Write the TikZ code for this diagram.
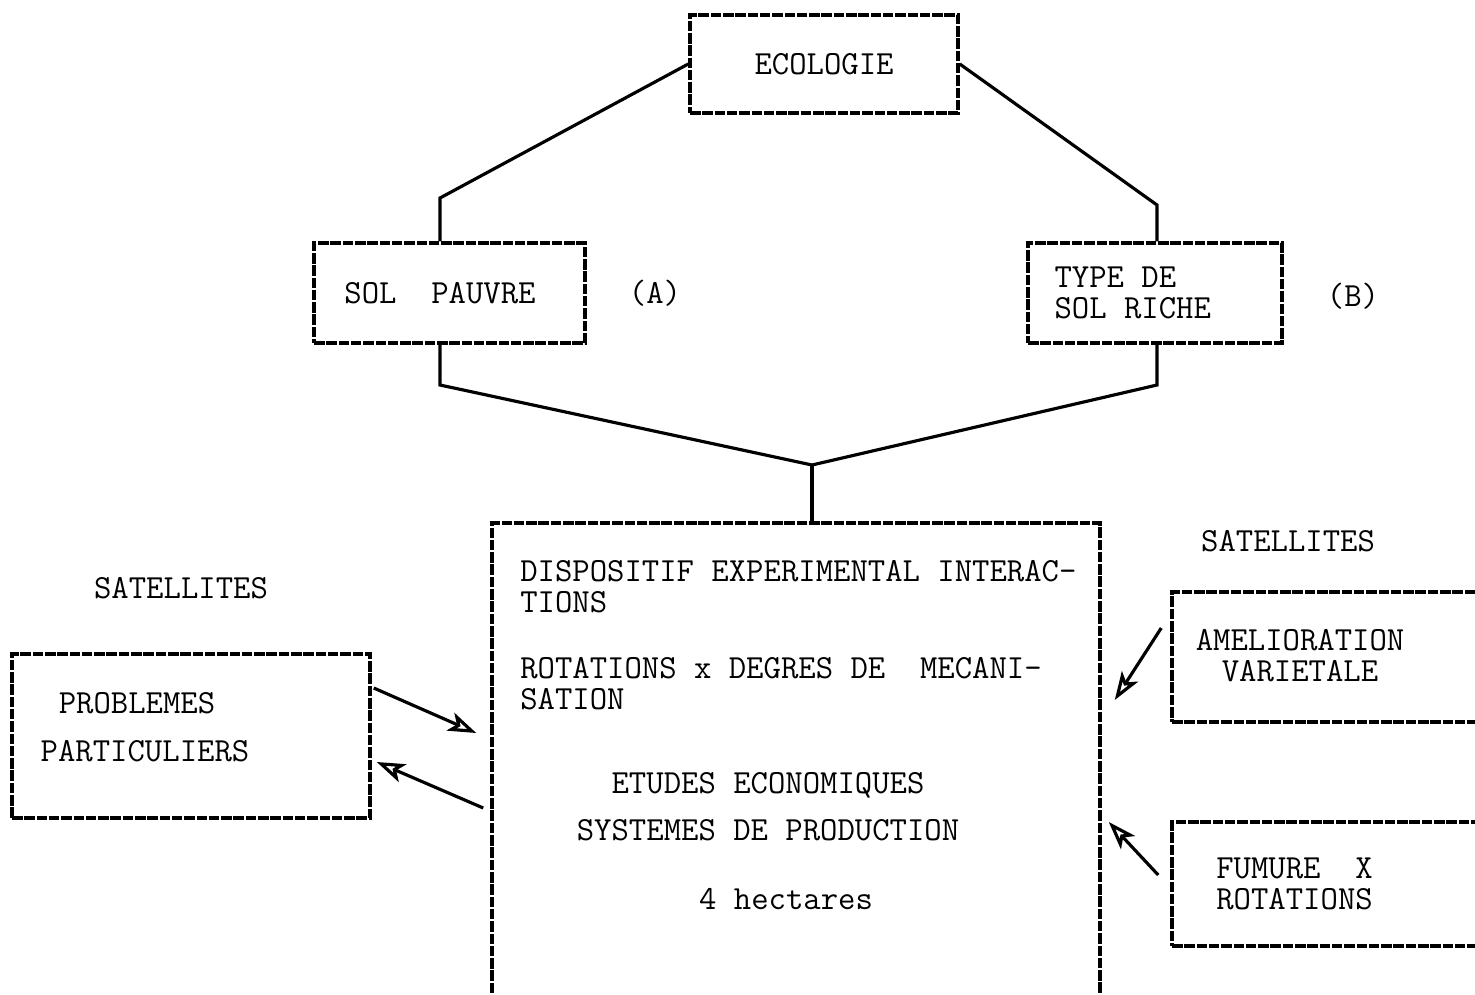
\documentclass[tikz,border=0pt]{standalone}
\usetikzlibrary{positioning,calc,arrows.meta}

\begin{document}
\begin{tikzpicture}[
            box/.style={draw, rectangle, line width=2pt, dash pattern=on 6pt off 1pt, inner sep=0pt},
            txt/.style={font=\ttfamily\fontsize{19.2}{17.6}\selectfont, inner sep=0pt},
            link/.style={line width=1.8pt},
            arr/.style={line width=1.8pt, -{Stealth[length=16pt, width=11pt, open, inset=4pt]}}
        ]
        \useasboundingbox (0,0) rectangle (29.5,-19.88);

        \node[box, minimum width=5.36cm, minimum height=1.96cm] (eco) at (16.48,-1.28) {};
        \node[txt] (ecot) at (eco) {ECOLOGIE};

        \node[box, minimum width=5.42cm, minimum height=2cm] (sol) at (8.99,-5.86) {};
        \node[txt] (solt) at (8.8,-5.86) {SOL\ \ PAUVRE};
        \node[txt] (la) at (13.1,-5.86) {(A)};

        \node[box, minimum width=5.08cm, minimum height=2cm] (riche) at (23.1,-5.86) {};
        \node[txt, align=left, anchor=west] (richet) at ([xshift=0.56cm]riche.west) {TYPE DE\\SOL RICHE};
        \node[txt] (lb) at (27.06,-5.92) {(B)};

        \node[box, minimum width=12.16cm, minimum height=9.54cm] (main) at (15.92,-15.23) {};
        \node[txt, align=left, anchor=north west] (maint) at (10.4,-11.2)
            {DISPOSITIF EXPERIMENTAL INTERAC-\\TIONS\\[20pt]ROTATIONS x DEGRES DE\ \ MECANI-\\SATION};
        \node[txt, align=center, anchor=north] (ecot2) at (15.36,-15.44)
            {ETUDES ECONOMIQUES\\[9pt]SYSTEMES DE PRODUCTION};
        \node[txt] (hect) at (15.72,-17.98) {4 hectares};

        \node[txt] (satl) at (3.62,-11.76) {SATELLITES};
        \node[txt] (satr) at (25.76,-10.82) {SATELLITES};

        \node[box, minimum width=7.16cm, minimum height=3.28cm] (prob) at (3.82,-14.72) {};
        \node[txt] (probt) at (2.74,-14.06) {PROBLEMES};
        \node[txt] (probt2) at (2.9,-15.02) {PARTICULIERS};

        \node[box, minimum width=6.16cm, minimum height=2.6cm] (amel) at (26.52,-13.14) {};
        \node[txt, align=center] (amelt) at (26.0,-13.12) {AMELIORATION\\VARIETALE};

        \node[box, minimum width=6.16cm, minimum height=2.48cm] (fum) at (26.52,-17.68) {};
        \node[txt, align=left, anchor=west] (fumt) at (24.32,-17.68) {FUMURE\ \ X\\ROTATIONS};

        \coordinate (ja) at (8.8,-3.96);
        \coordinate (jb) at (23.14,-4.1);
        \coordinate (jc) at (8.8,-7.7);
        \coordinate (jd) at (23.14,-7.7);
        \coordinate (hub) at (16.24,-9.3);

        \draw[link] (eco.west) -- (ja) -- (ja |- sol.north);
        \draw[link] (eco.east) -- (jb) -- (jb |- riche.north);
        \draw[link] (jc |- sol.south) -- (jc) -- (hub);
        \draw[link] (jd |- riche.south) -- (jd) -- (hub);
        \draw[link] (hub) -- (hub |- main.north);

        \draw[arr] ([xshift=0.04cm, yshift=0.96cm]prob.east) -- ([xshift=-0.28cm, yshift=0.57cm]main.west);
        \draw[arr] ([xshift=-0.14cm, yshift=-0.93cm]main.west) -- ([xshift=0.1cm, yshift=-0.52cm]prob.east);
        \draw[arr] ([xshift=-0.18cm, yshift=0.58cm]amel.west) -- ([xshift=0.26cm, yshift=1.23cm]main.east);
        \draw[arr] ([xshift=-0.24cm, yshift=0.18cm]fum.west) -- ([xshift=0.14cm, yshift=-1.21cm]main.east);
    \end{tikzpicture}
\end{document}
